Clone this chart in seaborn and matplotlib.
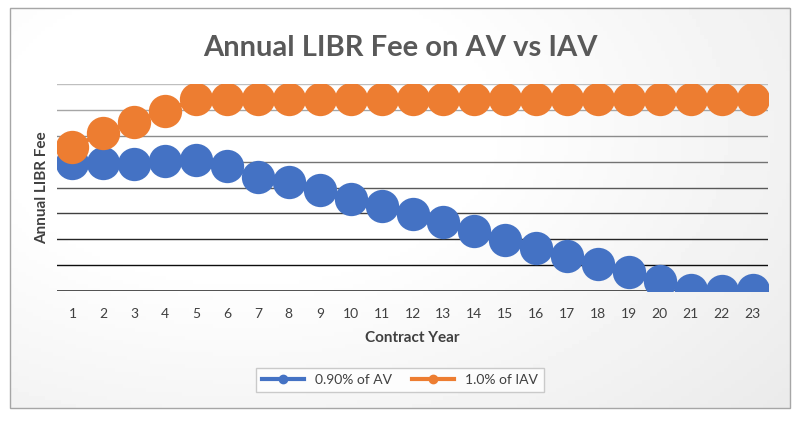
import numpy as np
import pandas as pd
import matplotlib
matplotlib.use("Agg")
import matplotlib.pyplot as plt
import seaborn as sns
from matplotlib.patches import Rectangle

years = list(range(1, 24))
av = [4.93, 4.94, 4.89, 5.02, 5.08, 4.83, 4.40, 4.21, 3.90, 3.54, 3.28, 2.97, 2.66,
      2.32, 1.97, 1.66, 1.35, 1.04, 0.73, 0.39, 0.05, 0.0, 0.02]
iav = [5.57, 6.11, 6.54, 6.96] + [7.41] * 19
labels = ["0.90% of AV", "1.0% of IAV"]
colors = ["#4472C4", "#ED7D31"]

df = pd.DataFrame({"year": years * 2, "fee": av + iav,
                   "series": [labels[0]] * 23 + [labels[1]] * 23})

plt.rcParams["font.family"] = "Lato"
fig = plt.figure(figsize=(8, 4.26), dpi=100)
bg = fig.add_axes([0, 0, 1, 1], zorder=-10)
bg.axis("off")
xx, yy = np.meshgrid(np.linspace(0, 1, 200), np.linspace(0, 1, 100))
r = np.sqrt(((xx - 0.3) / 1.0) ** 2 + ((yy - 0.3) / 1.2) ** 2)
grad = 1 - 0.08 * np.clip((r - 0.3) / 0.6, 0, 1)
bg.imshow(grad, cmap="gray", vmin=0, vmax=1, aspect="auto",
          extent=[0.0125, 0.9875, 0.042, 0.981])
bg.set_xlim(0, 1); bg.set_ylim(0, 1)
bg.add_patch(Rectangle((0.0125, 0.042), 0.975, 0.939, fill=False, ec="#a6a6a6", lw=1))

ax = fig.add_axes([57 / 800, 1 - 291 / 426, (768 - 57) / 800, (291 - 84) / 426])
ax.patch.set_alpha(0)
for i in range(1, 9):
    c = 0.75 - 0.7 * (8 - i) / 7
    ax.axhline(i, color=str(c), lw=1, zorder=0)
ax.axhline(0, color="#404040", lw=2, zorder=0)

sns.lineplot(data=df, x="year", y="fee", hue="series", palette=colors, marker="o",
             markersize=24, markeredgewidth=0, linewidth=3, ax=ax, legend=False, zorder=3)
ax.set_ylim(0, 8)
ax.set_xlim(0.5, 23.5)
ax.set_xticks(years)
ax.set_yticks([])
ax.tick_params(axis="x", length=0, labelsize=10, colors="#404040", pad=12)
for s in ax.spines.values():
    s.set_visible(False)
ax.set_xlabel("Contract Year", fontsize=11, fontweight="bold", color="#404040", labelpad=8)
ax.set_ylabel("Annual LIBR Fee", fontsize=11, fontweight="bold", color="#404040", labelpad=6)
fig.text(0.5, 0.887, "Annual LIBR Fee on AV vs IAV", ha="center", va="center",
         fontsize=21, color="#595959", fontweight="bold")

handles = [plt.Line2D([], [], color=c, lw=3, marker="o", markersize=6) for c in colors]
leg = fig.legend(handles, labels, loc="center", bbox_to_anchor=(0.5, 1 - 380 / 426), ncol=2,
                 frameon=True, fontsize=10, handlelength=3, columnspacing=1.5,
                 edgecolor="#bfbfbf", fancybox=False)
for t in leg.get_texts():
    t.set_color("#404040")
fig.savefig("out.png", dpi=100)
